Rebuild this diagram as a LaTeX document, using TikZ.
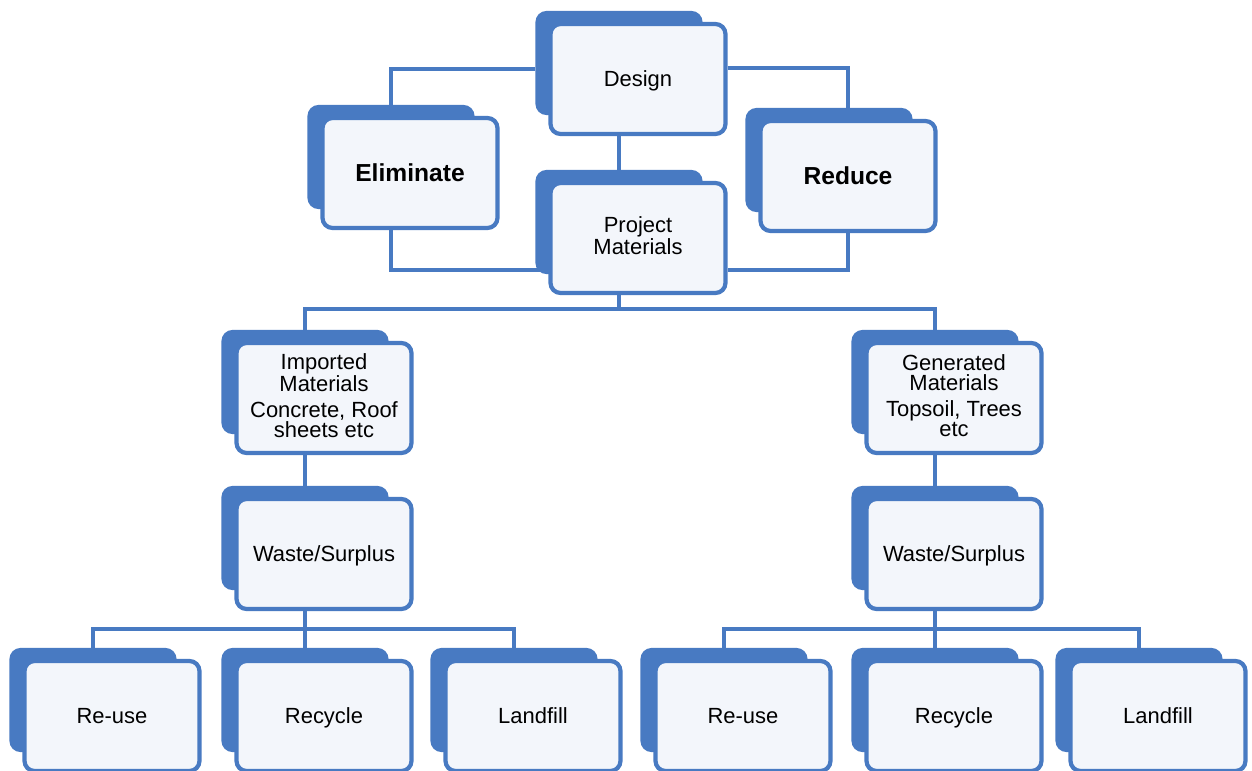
\documentclass[tikz,border=0pt]{standalone}
\usepackage{fontspec}
\setmainfont{Liberation Sans}
\usepackage{tikz}
\usetikzlibrary{calc}
\usetikzlibrary{backgrounds}
\definecolor{boxblue}{RGB}{72,122,194}
\definecolor{boxface}{RGB}{243,246,251}

\begin{document}
\begin{tikzpicture}[x=0.02cm,y=-0.02cm,
    rearbox/.style={draw=boxblue,fill=boxblue,line width=1.2pt,rounded corners=0.2cm,
      minimum width=3.3cm,minimum height=2.04cm,inner sep=0pt},
    facebox/.style={draw=boxblue,fill=boxface,line width=2.4pt,rounded corners=0.2cm,
      minimum width=3.5cm,minimum height=2.2cm,inner sep=0pt,align=center,
      font=\fontsize{12.5}{11.6}\selectfont,
      execute at begin node={\rule[-0.2em]{0pt}{1.12em}}},
    bigtext/.style={font=\fontsize{14}{14}\selectfont\bfseries},
    wire/.style={draw=boxblue,line width=2.2pt}]
  \useasboundingbox (0,0) rectangle (1252,771);

  \node[rearbox] (design-b) at (619,63) {};
  \node[facebox] (design) at (638,79) {Design};
  \node[rearbox] (elim-b) at (391,157) {};
  \node[facebox,bigtext] (elim) at (410,173) {Eliminate};
  \node[rearbox] (reduce-b) at (829,160) {};
  \node[facebox,bigtext] (reduce) at (848,176) {Reduce};
  \node[rearbox] (proj-b) at (619,222) {};
  \node[facebox] (proj) at (638,238) {Project\\Materials};

  \node[rearbox] (imp-b) at (305,382) {};
  \node[facebox] (imp) at (324,398) {Imported\\Materials\\[3pt]Concrete, Roof\\sheets etc};
  \node[rearbox] (gen-b) at (935,382) {};
  \node[facebox] (gen) at (954,398) {Generated\\Materials\\[3pt]Topsoil, Trees\\etc};
  \node[rearbox] (waste1-b) at (305,538) {};
  \node[facebox] (waste1) at (324,554) {Waste/Surplus};
  \node[rearbox] (waste2-b) at (935,538) {};
  \node[facebox] (waste2) at (954,554) {Waste/Surplus};

  \node[rearbox] (reuse1-b) at (93,700) {};
  \node[facebox] (reuse1) at (112,716) {Re-use};
  \node[rearbox] (recycle1-b) at (305,700) {};
  \node[facebox] (recycle1) at (324,716) {Recycle};
  \node[rearbox] (landfill1-b) at (514,700) {};
  \node[facebox] (landfill1) at (533,716) {Landfill};
  \node[rearbox] (reuse2-b) at (724,700) {};
  \node[facebox] (reuse2) at (743,716) {Re-use};
  \node[rearbox] (recycle2-b) at (935,700) {};
  \node[facebox] (recycle2) at (954,716) {Recycle};
  \node[rearbox] (landfill2-b) at (1139,700) {};
  \node[facebox] (landfill2) at (1158,716) {Landfill};

  \begin{scope}[on background layer]
    \draw[wire] ([yshift=-0.12cm]design-b.west) -| (elim-b.north);
    \draw[wire] ([yshift=0.22cm]design.east) -| (reduce.north);
    \draw[wire] (design-b) -- (proj-b);
    \draw[wire] (elim-b.south) |- ([yshift=-0.64cm]proj.west);
    \draw[wire] (reduce.south) |- ([yshift=-0.64cm]proj.east);
    \draw[wire] (proj-b) -- ++(0,88);
    \draw[wire] (imp-b.north) -- ++(0,-21) -| (gen-b.north);
    \draw[wire] (imp-b) -- (waste1-b);
    \draw[wire] (gen-b) -- (waste2-b);
    \draw[wire] (waste1-b) -- (recycle1-b);
    \draw[wire] (reuse1-b.north) -- ++(0,-19) -| (landfill1-b.north);
    \draw[wire] (waste2-b) -- (recycle2-b);
    \draw[wire] (reuse2-b.north) -- ++(0,-19) -| (landfill2-b.north);
  \end{scope}
\end{tikzpicture}
\end{document}
